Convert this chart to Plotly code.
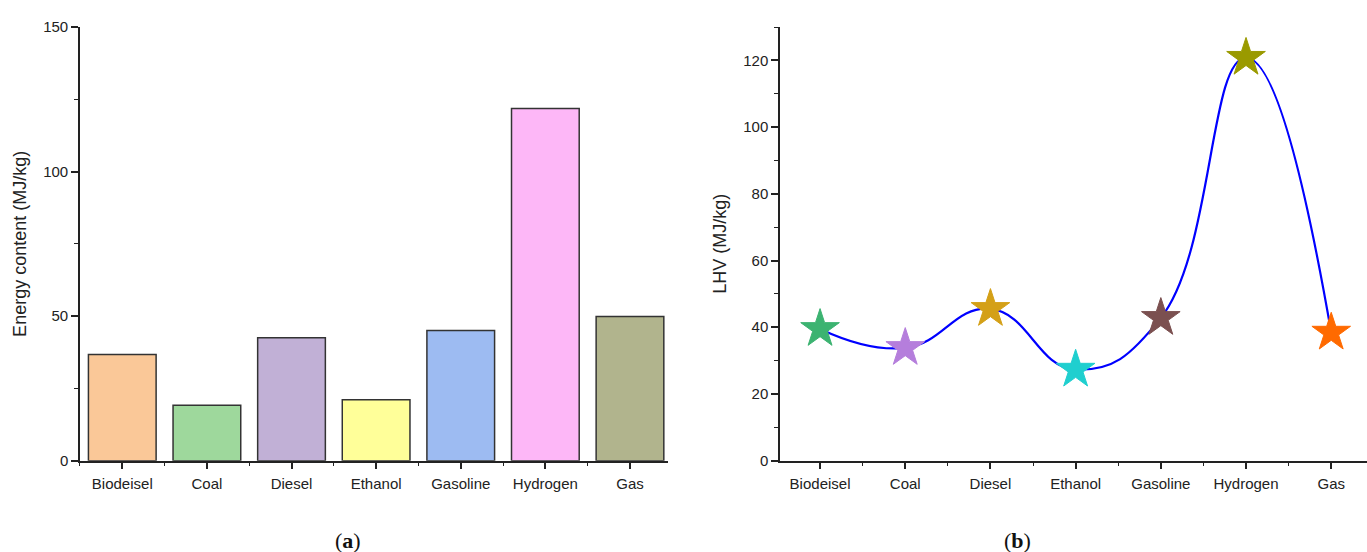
import plotly.graph_objects as go

categories = ["Biodeisel", "Coal", "Diesel", "Ethanol", "Gasoline", "Hydrogen", "Gas"]
energy_content = [36.7, 19.2, 42.5, 21.1, 45.0, 121.8, 49.9]
lhv = [39.5, 33.8, 45.5, 27.3, 42.8, 120.8, 38.4]
bar_colors = ["#FAC898", "#9ED89C", "#C1B0D6", "#FFFF99", "#9DBBF2", "#FDB7F7", "#B1B48D"]
star_colors = ["#3CB371", "#B57EDC", "#D4A017", "#1FCFCF", "#7B5050", "#9A9A00", "#FF6A00"]

idx = list(range(len(categories)))

fig = go.Figure()
fig.add_trace(go.Bar(
    x=idx, y=energy_content, width=0.8,
    marker=dict(color=bar_colors, line=dict(color="#333333", width=1.5)),
    xaxis="x", yaxis="y", showlegend=False))
fig.add_trace(go.Scatter(
    x=idx, y=lhv, mode="lines", line=dict(color="#0000FF", width=2.2, shape="spline", smoothing=1.3),
    xaxis="x2", yaxis="y2", showlegend=False))
fig.add_trace(go.Scatter(
    x=idx, y=lhv, mode="markers",
    marker=dict(symbol="star", size=29, color=star_colors, line=dict(color=star_colors, width=1)),
    xaxis="x2", yaxis="y2", showlegend=False))

tickfont = dict(family="Liberation Sans, Arial, sans-serif", size=15, color="#222222")
minor_common = dict(ticks="outside", ticklen=4, tickwidth=1.2, tickcolor="#222222")
common_x = dict(tickmode="array", tickvals=idx, ticktext=categories, showline=True,
                linecolor="#222222", linewidth=1.5, ticks="outside", ticklen=7, tickwidth=1.5,
                tickcolor="#222222", showgrid=False, zeroline=False, tickfont=tickfont,
                automargin=False, ticklabelstandoff=2,
                minor=dict(tick0=0.5, dtick=1, **minor_common))
common_y = dict(showline=True, linecolor="#222222", linewidth=1.5, ticks="outside", ticklen=7,
                tickwidth=1.5, tickcolor="#222222", showgrid=False, zeroline=False, tickfont=tickfont,
                automargin=False,
                title_font=dict(family="Liberation Sans, Arial, sans-serif", size=18, color="#222222"))

fig.update_layout(
    width=1367, height=552, margin=dict(l=0, r=0, t=0, b=0),
    paper_bgcolor="white", plot_bgcolor="white",
    xaxis=dict(domain=[0.0585, 0.4887], range=[-0.5, 6.45], anchor="y", **common_x),
    yaxis=dict(domain=[0.1655, 0.951], range=[0, 150], dtick=50, anchor="x",
               minor=dict(dtick=25, **minor_common),
               title=dict(text="Energy content (MJ/kg)", standoff=12), **common_y),
    xaxis2=dict(domain=[0.5706, 1.0], range=[-0.47, 6.42], anchor="y2", **common_x),
    yaxis2=dict(domain=[0.1655, 0.951], range=[0, 130], dtick=20, anchor="x2",
                minor=dict(dtick=10, **minor_common),
                title=dict(text="LHV (MJ/kg)", standoff=12), **common_y),
    annotations=[
        dict(text="(<b>a</b>)", x=0.2436, y=12 / 552, xref="paper", yref="paper", yanchor="middle",
             showarrow=False, font=dict(family="Liberation Serif, DejaVu Serif, serif", size=22, color="#111111")),
        dict(text="(<b>b</b>)", x=0.7557, y=12 / 552, xref="paper", yref="paper", yanchor="middle",
             showarrow=False, font=dict(family="Liberation Serif, DejaVu Serif, serif", size=22, color="#111111")),
    ],
)

fig.write_html("out.html", config={"displayModeBar": False},
               post_script="document.body.style.margin='0px';document.body.style.overflow='hidden';")
